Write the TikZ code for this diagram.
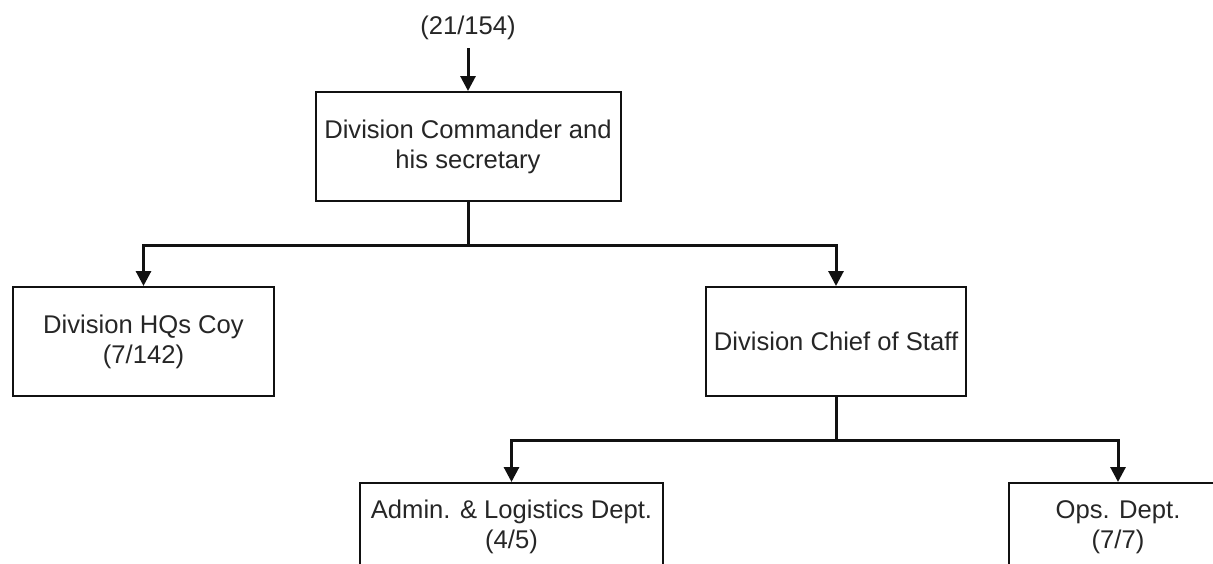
\documentclass[tikz,border=0pt]{standalone}
\usepackage{fontspec}
\setmainfont{Liberation Sans}
\usetikzlibrary{arrows.meta}
\definecolor{txt}{HTML}{262626}
\definecolor{ln}{HTML}{111111}
\begin{document}
\begin{tikzpicture}[x=1pt,y=-1pt,
  box/.style={draw=ln,line width=2pt,fill=white,rectangle,inner sep=0pt,align=center,
    text=txt,font=\fontsize{25.6}{30}\selectfont},
  lbl/.style={inner sep=0pt,text=txt,font=\fontsize{25.6}{30}\selectfont},
  conn/.style={draw=ln,line width=3pt,-{Triangle[length=15pt,width=15pt]}}]
\useasboundingbox (0,0) rectangle (1213,563);
\clip (0,0) rectangle (1213,563);
\fill[white] (0,0) rectangle (1213,563);
\node[lbl] (tot) at (468,28) {(21/154)};
\coordinate (totend) at (468,48);
\node[box,minimum width=305pt,minimum height=109pt] (cmd) at (468,146.5) {Division Commander and\\his secretary};
\node[box,minimum width=261pt,minimum height=109pt] (hq) at (143.5,341.5) {Division HQs Coy\\(7/142)};
\node[box,minimum width=260pt,minimum height=109pt] (chief) at (836,341.5) {Division Chief of Staff};
\node[box,minimum width=303pt,minimum height=88pt] (adm) at (511.5,527) {Admin. \& Logistics Dept.\\(4/5)};
\node[box,minimum width=218pt,minimum height=88pt] (ops) at (1118,527) {Ops. Dept.\\(7/7)};
\draw[conn] (totend) -- (cmd.north);
\draw[conn] (cmd.south) -- ++(0,43) -| (hq.north);
\draw[conn] (cmd.south) -- ++(0,43) -| (chief.north);
\draw[conn] (chief.south) -- ++(0,43.5) -| (adm.north);
\draw[conn] (chief.south) -- ++(0,43.5) -| (ops.north);
\end{tikzpicture}
\end{document}
